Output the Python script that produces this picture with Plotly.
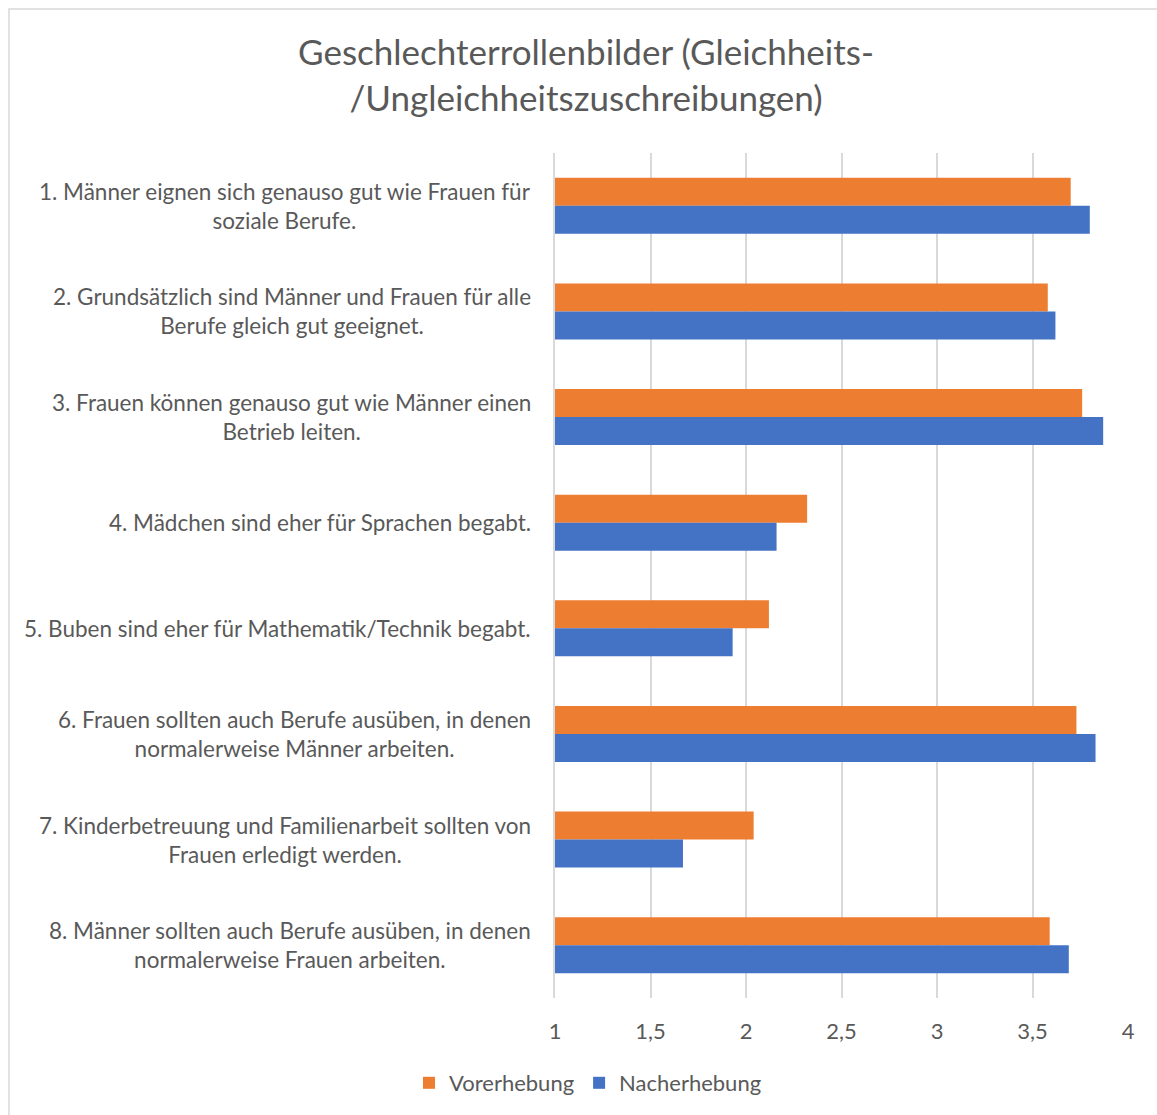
import plotly.graph_objects as go

categories = [
    "1. Männer eignen sich genauso gut wie Frauen für<br>soziale Berufe.",
    "2. Grundsätzlich sind Männer und Frauen für alle<br>Berufe gleich gut geeignet.",
    "3. Frauen können genauso gut wie Männer einen<br>Betrieb leiten.",
    "4. Mädchen sind eher für Sprachen begabt.",
    "5. Buben sind eher für Mathematik/Technik begabt.",
    "6. Frauen sollten auch Berufe ausüben, in denen<br>normalerweise Männer arbeiten.",
    "7. Kinderbetreuung und Familienarbeit sollten von<br>Frauen erledigt werden.",
    "8. Männer sollten auch Berufe ausüben, in denen<br>normalerweise Frauen arbeiten.",
]
vorerhebung = [3.70, 3.58, 3.76, 2.32, 2.12, 3.73, 2.04, 3.59]
nacherhebung = [3.80, 3.62, 3.87, 2.16, 1.93, 3.83, 1.67, 3.69]
x_ticks = [1, 1.5, 2, 2.5, 3, 3.5, 4]
x_ticktext = ["1", "1,5", "2", "2,5", "3", "3,5", "4"]

FONT = "Lato"
GREY = "#595959"

fig = go.Figure()
fig.add_trace(go.Bar(y=categories, x=vorerhebung, orientation="h", name="Vorerhebung",
                     marker=dict(color="#ED7D31", line=dict(width=0))))
fig.add_trace(go.Bar(y=categories, x=nacherhebung, orientation="h", name="Nacherhebung",
                     marker=dict(color="#4472C4", line=dict(width=0))))

for c in categories:
    fig.add_annotation(text=c, xref="paper", yref="y", x=0, y=c, xanchor="right",
                       yanchor="middle", xshift=-22, align="center", showarrow=False,
                       font=dict(family=FONT, size=22.5, color=GREY))

# chart area border
fig.add_shape(type="rect", xref="paper", yref="paper",
              x0=(9 - 555) / 573, x1=(1175 - 555) / 573,
              y0=-(1130 - 998) / 845, y1=1 + (153 - 9) / 845,
              line=dict(color="#D9D9D9", width=1.5), layer="below")

fig.update_layout(
    width=1157, height=1115,
    margin=dict(l=555, r=29, t=153, b=117),
    paper_bgcolor="white", plot_bgcolor="white",
    barmode="group", bargap=0.47, bargroupgap=0,
    title=dict(text="Geschlechterrollenbilder (Gleichheits-<br>/Ungleichheitszuschreibungen)",
               x=586 / 1157, xanchor="center", xref="container",
               y=1 - 65 / 1115, yanchor="middle", yref="container",
               font=dict(family=FONT, size=35, color=GREY)),
    xaxis=dict(range=[1, 4], tickvals=x_ticks, ticktext=x_ticktext,
               showgrid=True, gridcolor="#D9D9D9", gridwidth=1.5, zeroline=False,
               showline=False, ticks="", ticklabelstandoff=18,
               tickfont=dict(family=FONT, size=22, color=GREY), fixedrange=True),
    yaxis=dict(autorange="reversed", showticklabels=False, showgrid=False,
               zeroline=False, showline=True, linecolor="#D9D9D9", linewidth=2,
               ticks=""),
    legend=dict(orientation="h", xref="container", yref="container",
                x=588 / 1157, xanchor="center", y=1 - 1083 / 1115, yanchor="middle",
                font=dict(family=FONT, size=22, color=GREY), traceorder="normal",
                itemwidth=30),
    showlegend=True,
)

fig.write_html("out.html")
